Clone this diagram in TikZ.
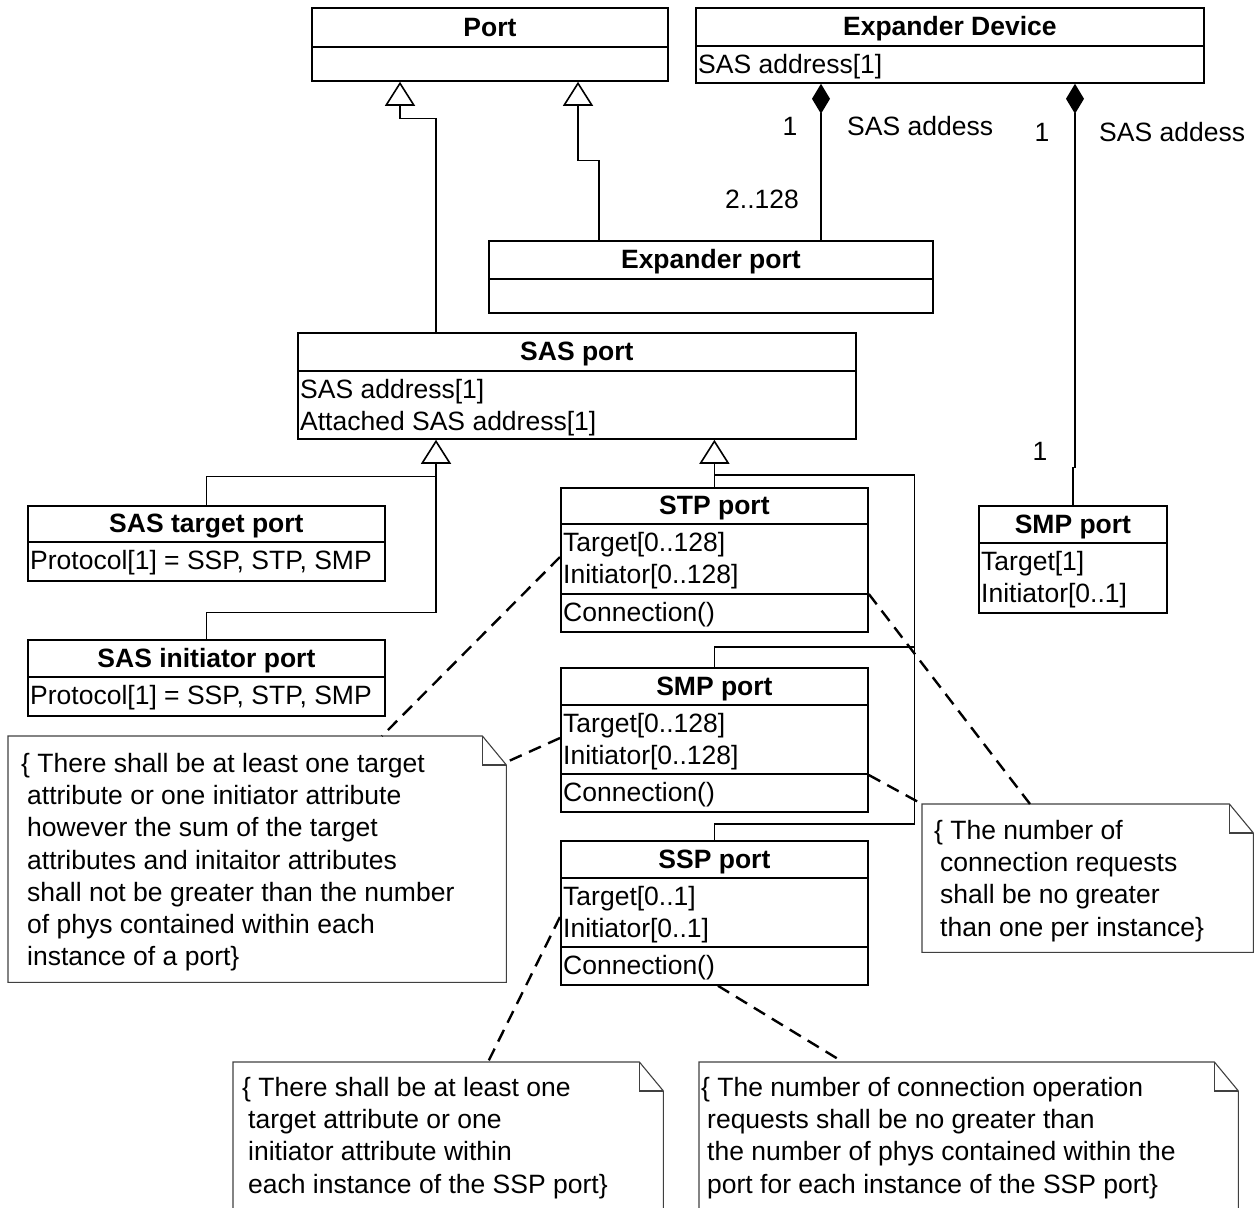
\documentclass[tikz,border=0pt]{standalone}
\usepackage{fontspec}
\setmainfont{Liberation Sans}
\usetikzlibrary{arrows.meta,calc}
\tikzset{%
  % boxes
  cls/.style={draw, line width=1.8pt, anchor=north west, inner sep=0pt},
  ctitle/.style={font=\fontsize{26.5}{32}\selectfont\bfseries, anchor=base, inner sep=0pt},
  cattr/.style={font=\fontsize{26.5}{32.5}\selectfont, align=left, anchor=north west, inner sep=0pt},
  notebox/.style={anchor=north west, inner sep=0pt},
  notetext/.style={font=\fontsize{26.5}{32.3}\selectfont, align=left, anchor=north west, inner sep=0pt},
  lbl/.style={font=\fontsize{26.5}{32}\selectfont, inner sep=0pt},
  % edges
  gen/.style={line width=1.3pt, -{Triangle[open, length=24pt, width=30pt, line width=1.6pt]}},
  tree/.style={line width=1.3pt},
  comp/.style={line width=1.3pt, {Diamond[length=30pt, width=18pt]}-},
  anchorline/.style={line width=2.4pt, dash pattern=on 13pt off 8pt},
  noteline/.style={line width=1.1pt, draw=black!75},
}
\newcommand{\umlclass}[6]{%
  % #1 = node name, #2 = top-left corner, #3 = width, #4 = height
  % #5 = height of title compartment, #6 = title
  \node[cls, minimum width=#3, minimum height=#4] (#1) at (#2) {};
  \draw[line width=1.8pt] ($(#1.north west)+(0,#5)$) -- ($(#1.north east)+(0,#5)$);
  \node[ctitle] (#1-title) at ($(#1.north)+(0,{#5/2+9})$) {#6};
}
\newcommand{\umlsep}[2]{%
  \draw[line width=1.8pt] ($(#1.north west)+(0,#2)$) -- ($(#1.north east)+(0,#2)$);
}
\newcommand{\umlnote}[4]{%
  % #1 = node name, #2 = top-left corner, #3 = width, #4 = height
  \node[notebox, minimum width=#3, minimum height=#4] (#1) at (#2) {};
  \draw[noteline] (#1.north west) -- ($(#1.north east)+(-24,0)$)
    -- ($(#1.north east)+(0,29)$) -- (#1.south east) -- (#1.south west) -- cycle;
  \draw[noteline] ($(#1.north east)+(-24,0)$) |- ($(#1.north east)+(0,29)$);
}
\newcommand{\ind}{\hspace*{6pt}}

\begin{document}
\begin{tikzpicture}[x=1pt, y=-1pt]
  \useasboundingbox (0,0) rectangle (1254,1208);

  % Classes
  \umlclass{port}{311,7}{356}{73}{40}{Port}
  \umlclass{expdev}{695,7}{508}{75}{39}{Expander Device}
  \node[cattr] (expdev-attr) at ($(expdev.north west)+(3,46.7)$) {SAS address[1]};
  \umlclass{expport}{488,240}{444}{72}{39}{Expander port}

  \umlclass{sasport}{297,332}{558}{106}{39}{SAS port}
  \node[cattr] (sasport-attr) at ($(sasport.north west)+(3,46.7)$) {SAS address[1]\\Attached SAS address[1]};

  \umlclass{sastgt}{27,505}{357}{75}{37}{SAS target port}
  \node[cattr] (sastgt-attr) at ($(sastgt.north west)+(3,44.7)$) {Protocol[1] = SSP, STP, SMP};
  \umlclass{sasini}{27,639}{357}{76}{38}{SAS initiator port}
  \node[cattr] (sasini-attr) at ($(sasini.north west)+(3,45.7)$) {Protocol[1] = SSP, STP, SMP};

  \umlclass{stp}{560,487}{307}{144}{37}{STP port}
  \umlsep{stp}{107}
  \node[cattr] (stp-attr) at ($(stp.north west)+(3,44.7)$) {Target[0..128]\\Initiator[0..128]};
  \node[cattr] (stp-op) at ($(stp.north west)+(3,115.2)$) {Connection()};

  \umlclass{smpmid}{560,667}{307}{144}{38}{SMP port}
  \umlsep{smpmid}{107}
  \node[cattr] (smpmid-attr) at ($(smpmid.north west)+(3,45.7)$) {Target[0..128]\\Initiator[0..128]};
  \node[cattr] (smpmid-op) at ($(smpmid.north west)+(3,115.2)$) {Connection()};

  \umlclass{ssp}{560,840}{307}{144}{38}{SSP port}
  \umlsep{ssp}{107}
  \node[cattr] (ssp-attr) at ($(ssp.north west)+(3,45.7)$) {Target[0..1]\\Initiator[0..1]};
  \node[cattr] (ssp-op) at ($(ssp.north west)+(3,115.2)$) {Connection()};

  \umlclass{smpport}{978,505}{188}{107}{38}{SMP port}
  \node[cattr] (smpport-attr) at ($(smpport.north west)+(3,45.7)$) {Target[1]\\Initiator[0..1]};

  % Generalisation
  \draw[gen] ($(sasport.north west)+(139,0)$) |- ($(port.south west)+(89,37)$) -- ($(port.south west)+(89,0)$);
  \draw[gen] ($(expport.north west)+(111,0)$) |- ($(port.south west)+(267,79)$) -- ($(port.south west)+(267,0)$);
  \draw[gen] (sastgt.north) |- ($(sasport.south west)+(139,37)$) -- ($(sasport.south west)+(139,0)$);
  \draw[tree] (sasini.north) |- ($(sasport.south west)+(139,173)$) -- ($(sasport.south west)+(139,37)$);
  \draw[gen] (stp.north) -- (stp.north |- sasport.south);
  \draw[tree] ($(stp.north)+(0,-12)$) -- ($(stp.north east)+(46,-12)$) |- ($(ssp.north)+(0,-16)$) -- (ssp.north);
  \draw[tree] ($(smpmid.north east)+(46,-20)$) -- ($(smpmid.north)+(0,-20)$) -- (smpmid.north);

  % Composition
  \draw[comp] ($(expdev.south west)+(126,0)$) -- ($(expport.north west)+(333,0)$);
  \draw[comp] ($(expdev.south west)+(380,0)$) -- ($(expdev.south west)+(380,384)$) -| (smpport.north);
  \node[lbl, anchor=base] (mult-a) at (790,135) {1};
  \node[lbl, anchor=base west] (role-a) at (847,135) {SAS addess};
  \node[lbl, anchor=base] (mult-b) at (762,208) {2..128};
  \node[lbl, anchor=base] (mult-c) at (1042,141) {1};
  \node[lbl, anchor=base west] (role-c) at (1099,141) {SAS addess};
  \node[lbl, anchor=base] (mult-d) at (1040,460) {1};

  % Constraint notes
  \umlnote{noteA}{8,736}{498}{246}
  \node[notetext] (noteA-text) at ($(noteA.north west)+(13,16.7)$) {%
    \{ There shall be at least one target\\
    \ind attribute or one initiator attribute\\
    \ind however the sum of the target\\
    \ind attributes and initaitor attributes\\
    \ind shall not be greater than the number\\
    \ind of phys contained within each\\
    \ind instance of a port\}};
  \umlnote{noteB}{922,804}{331}{148}
  \node[notetext] (noteB-text) at ($(noteB.north west)+(12,15.7)$) {%
    \{ The number of\\
    \ind connection requests\\
    \ind shall be no greater\\
    \ind than one per instance\}};
  \umlnote{noteC}{233,1062}{430}{170}
  \node[notetext] (noteC-text) at ($(noteC.north west)+(9,14.7)$) {%
    \{ There shall be at least one\\
    \ind target attribute or one\\
    \ind initiator attribute within\\
    \ind each instance of the SSP port\}};
  \umlnote{noteD}{699,1062}{539}{170}
  \node[notetext] (noteD-text) at ($(noteD.north west)+(2,14.7)$) {%
    \{ The number of connection operation\\
    \ind requests shall be no greater than\\
    \ind the number of phys contained within the\\
    \ind port for each instance of the SSP port\}};

  % Note links
  \draw[anchorline] ($(stp.north west)+(0,70)$) -- ($(noteA.north west)+(374,0)$);
  \draw[anchorline] ($(smpmid.north west)+(0,71)$) -- ($(noteA.north east)+(-2,27)$);
  \draw[anchorline] ($(stp.north east)+(0,107)$) -- ($(noteB.north west)+(108,0)$);
  \draw[anchorline] ($(smpmid.north east)+(0,108)$) -- (noteB.north west);
  \draw[anchorline] ($(ssp.north west)+(0,77)$) -- ($(noteC.north west)+(255,0)$);
  \draw[anchorline] ($(ssp.south west)+(158,0)$) -- ($(noteD.north west)+(144,0)$);
\end{tikzpicture}
\end{document}
